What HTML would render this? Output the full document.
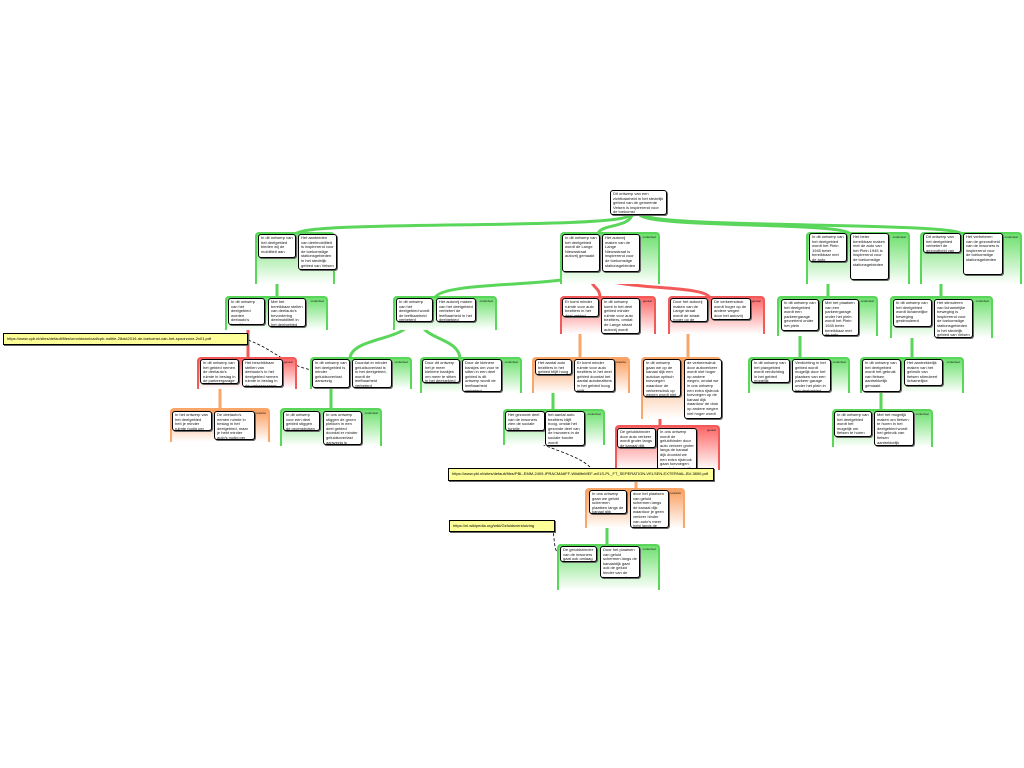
<!DOCTYPE html>
<html><head><meta charset="utf-8"><style>
body{margin:0;width:1024px;height:768px;background:#fff;position:relative;overflow:hidden;font-family:"Liberation Sans",sans-serif}
.g{position:absolute;border:2px solid;border-bottom:none;border-radius:4px 4px 0 0;box-sizing:border-box}
.gg{border-color:#5ad65a;background:linear-gradient(#6ee06e,#fff)}
.gr{border-color:#f25a5a;background:linear-gradient(#f66,#fff)}
.go{border-color:#f8a66a;background:linear-gradient(#fa9f60,#fff)}
.g span{position:absolute;right:2px;top:1px;font-size:3px;color:#222}
.b{position:absolute;background:#fff;border:1.5px solid #000;border-radius:3px;box-shadow:1px 1px 0 #666;font-size:4px;line-height:4.6px;padding:1px 2px;box-sizing:border-box;overflow:hidden;color:#111}
.u{position:absolute;background:#ffff99;border:1px solid #000;box-shadow:1px 1px 0 #666;font-size:4px;padding:2px 3px;box-sizing:border-box;white-space:nowrap;overflow:hidden}
svg{position:absolute;left:0;top:0}
</style></head><body>
<svg width="1024" height="768" fill="none">
<g stroke="#5ad65a" stroke-width="3">
<path d="M630,215 C620,230 300,220 296,234"/>
<path d="M632,215 C628,228 600,224 598,234"/>
<path d="M640,215 C650,228 845,222 850,234"/>
<path d="M645,215 C655,228 955,222 962,234"/>
<path d="M277,258 L277,298"/>
<path d="M582,272 C580,288 440,280 435,298"/>
<path d="M828,262 L828,298"/>
<path d="M941,253 L941,298"/>
<path d="M410,322 C405,340 352,338 350,358"/>
<path d="M420,322 C425,340 458,338 460,358"/>
<path d="M800,331 L800,358"/>
<path d="M912,327 L912,358"/>
<path d="M331,388 L331,409"/>
<path d="M553,375 L553,410"/>
<path d="M881,392 L881,410"/>
<path d="M607,520 L607,546"/>
</g>
<g stroke="#f25a5a" stroke-width="3">
<path d="M590,272 C590,290 600,285 600,298"/>
<path d="M598,272 C600,292 705,283 710,298"/>
<path d="M248,325 L248,358"/>
<path d="M660,397 L660,426"/>
</g>
<g stroke="#f8a66a" stroke-width="3">
<path d="M580,317 L580,358"/>
<path d="M688,320 L688,358"/>
<path d="M220,384 L220,409"/>
<path d="M636,455 L636,489"/>
</g>
<g stroke="#000" stroke-width="0.8" stroke-dasharray="3,2">
<path d="M248,340 C275,350 285,365 312,370"/>
<path d="M590,467 C575,452 530,445 523,432"/>
<path d="M550,524 C556,530 552,550 559,554"/>
</g>
</svg>

<div class="b" style="left:610px;top:190px;width:57px;height:25px">Dit ontwerp van een zichtbaarheid in het stedelijk gebied van de gemeente Velsen is inspirerend voor de toekomst</div>

<div class="g gg" style="left:255px;top:232px;width:80px;height:52px"><span>onderdeel</span></div>
<div class="b" style="left:258px;top:234px;width:38px;height:24px">In dit ontwerp van het deelgebied bieden wij de mobiliteit aan</div>
<div class="b" style="left:298px;top:234px;width:39px;height:36px">Het aanbieden van deelmobiliteit is inspirerend voor de toekomstige stationsgebieden in het stedelijk gebied van Velsen</div>

<div class="g gg" style="left:560px;top:232px;width:100px;height:52px"><span>onderdeel</span></div>
<div class="b" style="left:562px;top:234px;width:38px;height:38px">In dit ontwerp van het deelgebied wordt de Lange Nieuwstraat autovrij gemaakt</div>
<div class="b" style="left:602px;top:234px;width:38px;height:38px">Het autovrij maken van de Lange Nieuwstraat is inspirerend voor de toekomstige stationsgebieden</div>

<div class="g gg" style="left:806px;top:232px;width:104px;height:52px"><span>onderdeel</span></div>
<div class="b" style="left:809px;top:233px;width:38px;height:29px">In dit ontwerp van het deelgebied wordt het Plein 1945 beter bereikbaar met de auto</div>
<div class="b" style="left:850px;top:233px;width:39px;height:47px">Het beter bereikbaar maken met de auto van het Plein 1945 is inspirerend voor de toekomstige stationsgebieden</div>

<div class="g gg" style="left:920px;top:232px;width:102px;height:52px"><span>onderdeel</span></div>
<div class="b" style="left:923px;top:233px;width:38px;height:20px">Dit ontwerp van het deelgebied verbetert de gezondheid van de inwoners</div>
<div class="b" style="left:963px;top:233px;width:40px;height:42px">Het verbeteren van de gezondheid van de inwoners is inspirerend voor de toekomstige stationsgebieden</div>

<div class="g gg" style="left:225px;top:296px;width:103px;height:34px"><span>onderdeel</span></div>
<div class="b" style="left:228px;top:298px;width:37px;height:27px">In dit ontwerp van het deelgebied worden deelauto's bereikbaar gesteld</div>
<div class="b" style="left:268px;top:298px;width:38px;height:29px">Met het bereikbaar stellen van deelauto's bevordering deelmobiliteit in het deelgebied</div>

<div class="g gg" style="left:393px;top:296px;width:104px;height:34px"><span>onderdeel</span></div>
<div class="b" style="left:396px;top:298px;width:37px;height:24px">In dit ontwerp van het deelgebied wordt de leefbaarheid verbeterd</div>
<div class="b" style="left:436px;top:298px;width:40px;height:24px">Het autovrij maken van het deelgebied verbetert de leefbaarheid in het deelgebied</div>

<div class="g gr" style="left:560px;top:296px;width:96px;height:38px"><span>gevaar</span></div>
<div class="b" style="left:562px;top:298px;width:37px;height:19px">Er komt minder ruimte voor auto bezitters in het deel gebied</div>
<div class="b" style="left:601px;top:298px;width:39px;height:36px">In dit ontwerp komt in het deel gebied minder ruimte voor auto bezitters, omdat de Lange straat autovrij wordt gemaakt</div>

<div class="g gr" style="left:668px;top:296px;width:97px;height:38px"><span>gevaar</span></div>
<div class="b" style="left:670px;top:298px;width:38px;height:24px">Door het autovrij maken van de Lange straat wordt de straat hoger op de andere wegen</div>
<div class="b" style="left:711px;top:298px;width:40px;height:22px">De verkeersdruk wordt hoger op de andere wegen door het autovrij maken van de Lange Nieuwstraat</div>

<div class="g gg" style="left:777px;top:296px;width:101px;height:40px"><span>onderdeel</span></div>
<div class="b" style="left:781px;top:299px;width:38px;height:32px">In dit ontwerp van het deelgebied wordt een parkeergarage gecreëerd onder het plein</div>
<div class="b" style="left:822px;top:299px;width:37px;height:37px">Met het plaatsen van een parkeergarage onder het plein wordt het Plein 1945 beter bereikbaar met de auto</div>

<div class="g gg" style="left:890px;top:296px;width:103px;height:42px"><span>onderdeel</span></div>
<div class="b" style="left:893px;top:299px;width:39px;height:28px">In dit ontwerp van het deelgebied wordt lichamelijke beweging gestimuleerd</div>
<div class="b" style="left:934px;top:299px;width:39px;height:39px">Het stimuleren van lichamelijke beweging is inspirerend voor de toekomstige stationsgebieden in het stedelijk gebied van Velsen</div>

<div class="u" style="left:3px;top:333px;width:245px;height:12px">https://www.cpb.nl/sites/default/files/omnidownload/cpb-notitie-28okt2019-de-toekomst-van-het-spoorzone-2x01.pdf</div>

<div class="g gr" style="left:197px;top:357px;width:100px;height:32px"><span>gevaar</span></div>
<div class="b" style="left:200px;top:359px;width:39px;height:25px">In dit ontwerp van het gebied nemen de deelauto's ruimte in beslag in de parkeergarage</div>
<div class="b" style="left:242px;top:359px;width:41px;height:28px">Het beschikbaar stellen van deelauto's in het deelgebied nemen ruimte in beslag in de parkeergarage</div>

<div class="g gg" style="left:310px;top:357px;width:102px;height:32px"><span>onderdeel</span></div>
<div class="b" style="left:312px;top:359px;width:38px;height:29px">In dit ontwerp van het deelgebied is minder geluidsoverlast aanwezig</div>
<div class="b" style="left:352px;top:359px;width:40px;height:29px">Doordat er minder geluidsoverlast is in het deelgebied, wordt de leefbaarheid verbeterd</div>

<div class="g gg" style="left:420px;top:357px;width:102px;height:36px"><span>onderdeel</span></div>
<div class="b" style="left:422px;top:359px;width:38px;height:24px">Door dit ontwerp het je meer kleinere bankjes om meer te sitten in het deelgebied</div>
<div class="b" style="left:462px;top:359px;width:40px;height:33px">Door de kleinere bankjes om voor te sitten in een deel gebied is dit ontwerp wordt de leefbaarheid verbeterd</div>

<div class="g go" style="left:532px;top:357px;width:98px;height:36px"><span>voorwaarde</span></div>
<div class="b" style="left:535px;top:359px;width:37px;height:16px">Het aantal auto bezitters in het gebied blijft hoog</div>
<div class="b" style="left:574px;top:359px;width:41px;height:33px">Er komt minder ruimte voor auto bezitters in het deel gebied doordat het aantal autobezitters in het gebied hoog blijft</div>

<div class="g go" style="left:641px;top:357px;width:80px;height:62px"><span>voorwaarde</span></div>
<div class="b" style="left:643px;top:359px;width:38px;height:38px">In dit ontwerp gaan we op de kanaal dijk een autoluw optisch toevoegen waardoor de verkeersdruk op wegen wordt niet hoger wordt</div>
<div class="b" style="left:684px;top:359px;width:38px;height:60px">de verkeersdruk door autoverkeer wordt niet hoger op andere wegen, omdat we in ons ontwerp een extra rijstrook toevoegen op de kanaal dijk waardoor de druk op andere wegen niet hoger wordt</div>

<div class="g gg" style="left:748px;top:357px;width:102px;height:36px"><span>onderdeel</span></div>
<div class="b" style="left:751px;top:359px;width:39px;height:24px">In dit ontwerp van het plangebied wordt verdichting in het gebied mogelijk</div>
<div class="b" style="left:792px;top:359px;width:39px;height:33px">Verdichting in het gebied wordt mogelijk door het plaatsen van een parkeer garage onder het plein in het deelgebied</div>

<div class="g gg" style="left:860px;top:357px;width:104px;height:36px"><span>onderdeel</span></div>
<div class="b" style="left:862px;top:359px;width:39px;height:33px">In dit ontwerp van het deelgebied wordt het gebruik van fietsen aantrekkelijk gemaakt</div>
<div class="b" style="left:904px;top:359px;width:39px;height:27px">Het aantrekkelijk maken van het gebruik van fietsen stimuleert lichamelijke beweging</div>

<div class="g go" style="left:170px;top:408px;width:100px;height:34px"><span>voorwaarde</span></div>
<div class="b" style="left:172px;top:411px;width:40px;height:20px">In het ontwerp van het deelgebied heb je minder ruimte nodig per persoon</div>
<div class="b" style="left:214px;top:411px;width:41px;height:29px">De deelauto's nemen ruimte in beslag in het deelgebied, maar je hebt minder auto's nodig per persoon</div>

<div class="g gg" style="left:280px;top:408px;width:102px;height:38px"><span>onderdeel</span></div>
<div class="b" style="left:283px;top:411px;width:37px;height:20px">In dit ontwerp voor een deel gebied stiggen de groenstroken</div>
<div class="b" style="left:323px;top:411px;width:39px;height:34px">In ons ontwerp stiggen de groen plekken in een deel gebied doordat er minder geluidsoverlast aanwezig is</div>

<div class="g gg" style="left:503px;top:409px;width:102px;height:36px"><span>onderdeel</span></div>
<div class="b" style="left:505px;top:411px;width:40px;height:20px">Het gezonde deel van de inwoners zien de sociale functie</div>
<div class="b" style="left:545px;top:411px;width:40px;height:35px">het aantal auto bezitters blijft hoog, omdat het gezonde deel van de inwoners in de sociale functie wordt</div>

<div class="g gr" style="left:615px;top:425px;width:105px;height:45px"><span>gevaar</span></div>
<div class="b" style="left:617px;top:428px;width:39px;height:20px">De geluidshinder door auto verkeer wordt groter langs de kanaal dijk</div>
<div class="b" style="left:657px;top:428px;width:40px;height:42px">In ons ontwerp wordt de geluidhinder door auto verkeer groter langs de kanaal dijk doordat we een extra rijstrook gaan toevoegen aan de kanaal dijk</div>

<div class="g gg" style="left:832px;top:409px;width:101px;height:38px"><span>onderdeel</span></div>
<div class="b" style="left:834px;top:411px;width:38px;height:26px">In dit ontwerp van het deelgebied wordt het mogelijk om fietsen te huren</div>
<div class="b" style="left:874px;top:411px;width:40px;height:35px">Met het mogelijk maken om fietsen te huren in het deelgebied wordt het gebruik van fietsen aantrekkelijk gemaakt</div>

<div class="u" style="left:448px;top:468px;width:266px;height:13px">https://www.pbl.nl/sites/default/files/PBL-EMM-2409-IPRACMA6FF-WildlifeMEF-w01S-PL_FT_SEPERATION-VELSEN-EXTERNAL-BV-3890.pdf</div>

<div class="g go" style="left:585px;top:488px;width:100px;height:40px"><span>voorwaarde</span></div>
<div class="b" style="left:589px;top:490px;width:38px;height:24px">In ons ontwerp gaan we geluid schermen plaatsen langs de kanaal dijk</div>
<div class="b" style="left:630px;top:490px;width:39px;height:38px">door het plaatsen van geluid schermen langs de kanaal dijk waardoor je geen verkeer hinder van auto's meer hebt langs de kanaal dijk</div>

<div class="u" style="left:449px;top:520px;width:106px;height:12px">https://nl.wikipedia.org/wiki/Geluidsverstuiving</div>

<div class="g gg" style="left:557px;top:544px;width:103px;height:46px"><span>onderdeel</span></div>
<div class="b" style="left:560px;top:546px;width:37px;height:16px">De geluidshinder van de inwoners gaat ook omlaag</div>
<div class="b" style="left:600px;top:546px;width:40px;height:32px">Door het plaatsen van geluid schermen langs de kanaaldijk gaat ook de geluid hinder van de inwoners omlaag</div>
</body></html>
